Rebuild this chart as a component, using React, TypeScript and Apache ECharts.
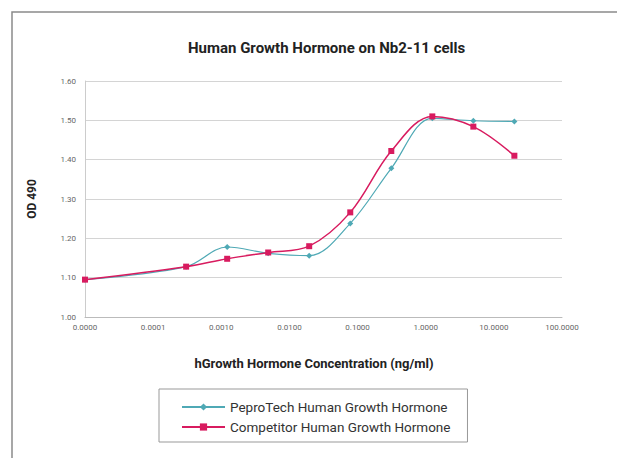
import React, { useEffect, useRef } from "react";
import * as echarts from "echarts";

const concentrations = [0.00001, 0.000305, 0.00122, 0.00488, 0.0195, 0.0781, 0.3125, 1.25, 5, 20];
const peprotech = [1.095, 1.128, 1.178, 1.162, 1.156, 1.238, 1.378, 1.505, 1.499, 1.497];
const competitor = [1.095, 1.128, 1.148, 1.164, 1.18, 1.266, 1.422, 1.51, 1.484, 1.41];
const seriesNames = ["PeproTech Human Growth Hormone", "Competitor Human Growth Hormone"];
const xAxisTitle = "hGrowth Hormone Concentration (ng/ml)";

export default function App() {
  const ref = useRef<HTMLDivElement>(null);
  useEffect(() => {
    const chart = echarts.init(ref.current!, null, { renderer: "svg" });
    const font = "Roboto, 'Noto Sans', sans-serif";
    chart.setOption({
      animation: false,
      backgroundColor: "#fff",
      textStyle: { fontFamily: font },
      title: {
        text: "Human Growth Hormone on Nb2-11 cells",
        left: 183,
        top: 35,
        textStyle: { fontSize: 15, fontWeight: "bold", color: "#222", fontFamily: font },
      },
      grid: { left: 85, right: 55, top: 81, bottom: 141, containLabel: false },
      legend: {
        orient: "vertical",
        left: 159,
        top: 389,
        padding: [11, 17, 8, 22],
        itemWidth: 43,
        itemHeight: 9,
        itemGap: 6,
        borderColor: "#999",
        borderWidth: 1,
        textStyle: { fontSize: 13.5, color: "#333", fontFamily: font },
        data: seriesNames,
      },
      xAxis: {
        type: "log",
        logBase: 10,
        min: 0.00001,
        max: 100,
        splitNumber: 7,
        axisLine: { show: true, lineStyle: { color: "#bbb" } },
        axisTick: { show: false },
        minorTick: { show: false },
        splitLine: { show: false },
        axisLabel: {
          fontSize: 8,
          color: "#666",
          margin: 6,
          formatter: (v: number) => v.toFixed(4),
        },
      },
      yAxis: {
        type: "value",
        min: 1.0,
        max: 1.6,
        interval: 0.1,
        name: "OD 490",
        nameLocation: "middle",
        nameGap: 47,
        nameTextStyle: { fontSize: 12, fontWeight: "bold", color: "#222" },
        axisLine: { show: true, lineStyle: { color: "#ccc" } },
        axisTick: { show: false },
        splitLine: { lineStyle: { color: "#d4d4d4" } },
        axisLabel: {
          fontSize: 8,
          color: "#666",
          margin: 9,
          formatter: (v: number) => v.toFixed(2),
        },
      },
      series: [
        {
          name: seriesNames[0],
          type: "line",
          smooth: 0.35,
          data: concentrations.map((c, i) => [c, peprotech[i]]),
          symbol: "diamond",
          symbolSize: 6,
          lineStyle: { color: "#4fa9b5", width: 1.2 },
          itemStyle: { color: "#4fa9b5" },
          z: 2,
        },
        {
          name: seriesNames[1],
          type: "line",
          smooth: 0.35,
          data: concentrations.map((c, i) => [c, competitor[i]]),
          symbol: "rect",
          symbolSize: 6,
          lineStyle: { color: "#d81b5f", width: 1.5 },
          itemStyle: { color: "#d81b5f" },
          z: 3,
        },
      ],
      graphic: [
        {
          type: "rect",
          shape: { x: 12, y: 12, width: 700, height: 500 },
          style: { fill: "none", stroke: "#8a8a8a", lineWidth: 1.5 },
          silent: true,
        },
        {
          type: "text",
          x: 314,
          y: 363,
          style: {
            text: xAxisTitle,
            fontSize: 13,
            fontWeight: "bold",
            fill: "#222",
            fontFamily: font,
            textAlign: "center",
            textVerticalAlign: "middle",
          },
          silent: true,
        },
      ],
    });
    return () => chart.dispose();
  }, []);
  return (
    <div
      ref={ref}
      style={{ position: "fixed", left: 0, top: 0, width: 617, height: 458 }}
    />
  );
}
